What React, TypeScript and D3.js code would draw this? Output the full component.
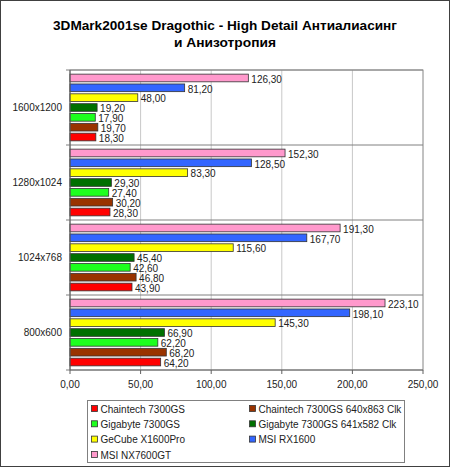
import React from "react";
import * as d3 from "d3";

const categories = ["1600x1200", "1280x1024", "1024x768", "800x600"];

const seriesNames = [
  "Chaintech 7300GS",
  "Chaintech 7300GS 640x863 Clk",
  "Gigabyte 7300GS",
  "Gigabyte 7300GS 641x582 Clk",
  "GeCube X1600Pro",
  "MSI RX1600",
  "MSI NX7600GT",
];

const seriesColors = ["#ff0000", "#993300", "#1eff1e", "#007000", "#ffff00", "#3366ff", "#ff99cc"];

// values per series, in category order
const chaintech = [18.3, 28.3, 43.9, 64.2];
const chaintechClk = [19.7, 30.2, 46.8, 68.2];
const gigabyte = [17.9, 27.4, 42.6, 62.2];
const gigabyteClk = [19.2, 29.3, 45.4, 66.9];
const gecube = [48.0, 83.3, 115.6, 145.3];
const msiRx = [81.2, 128.5, 167.7, 198.1];
const msiNx = [126.3, 152.3, 191.3, 223.1];

const seriesValues = [chaintech, chaintechClk, gigabyte, gigabyteClk, gecube, msiRx, msiNx];

const xTicks = [0, 50, 100, 150, 200, 250];

const width = 450;
const height = 468;
const plot = { left: 70, right: 423, top: 70, bottom: 370 };
const font = "Arial, 'Liberation Sans', sans-serif";

const fmt = (v: number) => v.toFixed(2).replace(".", ",");

const x = d3.scaleLinear().domain([0, 250]).range([plot.left, plot.right]);

const y = d3.scaleBand<string>().domain(categories).range([plot.top, plot.bottom]);

// Excel draws the last series on top inside each group
const inner = d3
  .scaleBand<number>()
  .domain(d3.range(seriesNames.length).reverse())
  .range([0, y.bandwidth()])
  .paddingInner(0.22)
  .paddingOuter(0.42);

const legendCols = [92, 250];
const legendTop = 409;
const legendStep = 15.3;

const App = () => {
  return (
    <>
      <style>{`body{margin:0}`}</style>
      <svg width={width} height={height} style={{ display: "block", fontFamily: font }}>
        <rect x={0.5} y={0.5} width={width - 1} height={height - 2} fill="#fff" stroke="#404040" />

        <text
          x={225}
          y={29.5}
          textAnchor="middle"
          fontSize={12.5}
          fontWeight="bold"
          fill="#000"
          textLength={344}
          lengthAdjust="spacingAndGlyphs"
        >
          3DMark2001se Dragothic - High Detail Антиалиасинг
        </text>
        <text
          x={225}
          y={46.5}
          textAnchor="middle"
          fontSize={12.5}
          fontWeight="bold"
          fill="#000"
          textLength={102}
          lengthAdjust="spacingAndGlyphs"
        >
          и Анизотропия
        </text>

        {/* gridlines */}
        {xTicks.map((t) => (
          <line key={t} x1={x(t)} x2={x(t)} y1={plot.top} y2={plot.bottom} stroke="#c8c8c8" />
        ))}
        <rect
          x={plot.left}
          y={plot.top}
          width={plot.right - plot.left}
          height={plot.bottom - plot.top}
          fill="none"
          stroke="#a0a0a0"
        />
        {categories.map((c) => (
          <line key={c} x1={plot.left - 4} x2={plot.right} y1={y(c)!} y2={y(c)!} stroke="#808080" />
        ))}
        <line x1={plot.left - 4} x2={plot.left} y1={plot.bottom} y2={plot.bottom} stroke="#808080" />

        {/* bars */}
        {categories.map((c, ci) =>
          seriesValues.map((vals, si) => {
            const by = y(c)! + inner(si)!;
            const v = vals[ci];
            return (
              <g key={`${c}-${si}`}>
                <rect
                  x={x(0)}
                  y={by}
                  width={x(v) - x(0)}
                  height={inner.bandwidth()}
                  fill={seriesColors[si]}
                  stroke="#333"
                  strokeWidth={0.8}
                />
                <text x={x(v) + 3} y={by + inner.bandwidth() / 2 + 4.8} fontSize={10} fill="#222">
                  {fmt(v)}
                </text>
              </g>
            );
          })
        )}

        {/* axes */}
        <line x1={plot.left} x2={plot.left} y1={plot.top} y2={plot.bottom} stroke="#606060" />
        <line x1={plot.left} x2={plot.right} y1={plot.bottom} y2={plot.bottom} stroke="#606060" />
        {xTicks.map((t) => (
          <g key={t}>
            <line x1={x(t)} x2={x(t)} y1={plot.bottom} y2={plot.bottom + 4} stroke="#606060" />
            <text x={x(t)} y={388} textAnchor="middle" fontSize={10} fill="#222">
              {fmt(t)}
            </text>
          </g>
        ))}
        {categories.map((c) => (
          <text key={c} x={62} y={y(c)! + y.bandwidth() / 2 + 3.5} textAnchor="end" fontSize={10} fill="#222">
            {c}
          </text>
        ))}

        {/* legend */}
        <rect x={87.5} y={400.5} width={317} height={62} fill="#fff" stroke="#808080" />
        {seriesNames.map((name, i) => {
          const lx = legendCols[i % 2];
          const ly = legendTop + Math.floor(i / 2) * legendStep;
          return (
            <g key={name}>
              <rect x={lx - 0.5} y={ly - 3.5} width={6} height={6} fill={seriesColors[i]} stroke="#333" strokeWidth={0.8} />
              <text x={lx + 8.5} y={ly + 3.8} fontSize={10} fill="#222">
                {name}
              </text>
            </g>
          );
        })}
      </svg>
    </>
  );
};

export default App;
